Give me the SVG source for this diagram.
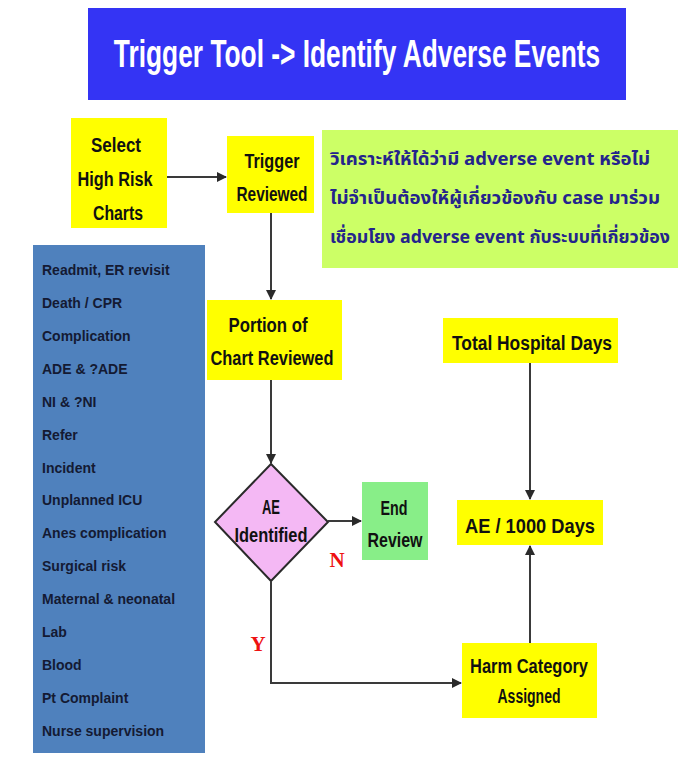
<svg xmlns="http://www.w3.org/2000/svg" width="680" height="764" viewBox="0 0 680 764">
<style>
.box{fill:#ffff00}
.lbl{font-family:"Liberation Sans",Arial,sans-serif;font-weight:bold;font-size:20px;fill:#111;text-anchor:middle}
.lst{font-family:"Liberation Sans",Arial,sans-serif;font-weight:bold;font-size:14px;fill:#141a33}
.th{font-family:"Noto Sans Thai","Noto Sans","DejaVu Sans","Liberation Sans",sans-serif;font-weight:bold;font-size:18px;fill:#24248c}
.yn{font-family:"Liberation Serif","Times New Roman",serif;font-weight:bold;font-size:21px;fill:#ee1111;text-anchor:middle}
.con{fill:none;stroke:#3a3a3a;stroke-width:2}
</style>
<defs>
<marker id="arr" viewBox="0 0 10 10" refX="9" refY="5" markerWidth="5" markerHeight="5" orient="auto" markerUnits="strokeWidth">
<path d="M0,0 L10,5 L0,10 z" fill="#2a2a2a"/>
</marker>
</defs>
<rect width="680" height="764" fill="#ffffff"/>
<g id="title">
<rect x="88" y="8" width="538" height="92" fill="#3434f4"/>
<text transform="translate(357,67) scale(0.675,1)" x="0" y="0" font-family="'Liberation Sans',Arial,sans-serif" font-weight="bold" font-size="39" fill="#ffffff" text-anchor="middle">Trigger Tool -&gt; Identify Adverse Events</text>
</g>
<g id="select">
<rect class="box" x="71" y="118" width="96" height="110"/>
<text class="lbl" x="116" y="152" textLength="50" lengthAdjust="spacingAndGlyphs">Select</text>
<text class="lbl" x="115" y="186" textLength="75" lengthAdjust="spacingAndGlyphs">High Risk</text>
<text class="lbl" x="118" y="220" textLength="50" lengthAdjust="spacingAndGlyphs">Charts</text>
</g>
<g id="trigger">
<rect class="box" x="227" y="136" width="87" height="77"/>
<text class="lbl" x="272" y="168" textLength="55" lengthAdjust="spacingAndGlyphs">Trigger</text>
<text class="lbl" x="272" y="201" textLength="71" lengthAdjust="spacingAndGlyphs">Reviewed</text>
</g>
<g id="note">
<rect x="322" y="130" width="356" height="138" fill="#ccff66"/>
<text class="th" x="330" y="165" textLength="320" lengthAdjust="spacingAndGlyphs">วิเคราะห์ให้ได้ว่ามี adverse event หรือไม่</text>
<text class="th" x="330" y="204" textLength="330" lengthAdjust="spacingAndGlyphs">ไม่จำเป็นต้องให้ผู้เกี่ยวข้องกับ case มาร่วม</text>
<text class="th" x="330" y="243" textLength="340" lengthAdjust="spacingAndGlyphs">เชื่อมโยง adverse event กับระบบที่เกี่ยวข้อง</text>
</g>
<g id="triggers-list">
<rect x="33" y="245" width="172" height="508" fill="#4f81bd"/>
<text class="lst" x="42" y="275">Readmit, ER revisit</text>
<text class="lst" x="42" y="308">Death / CPR</text>
<text class="lst" x="42" y="341">Complication</text>
<text class="lst" x="42" y="374">ADE &amp; ?ADE</text>
<text class="lst" x="42" y="407">NI &amp; ?NI</text>
<text class="lst" x="42" y="440">Refer</text>
<text class="lst" x="42" y="473">Incident</text>
<text class="lst" x="42" y="505">Unplanned ICU</text>
<text class="lst" x="42" y="538">Anes complication</text>
<text class="lst" x="42" y="571">Surgical risk</text>
<text class="lst" x="42" y="604">Maternal &amp; neonatal</text>
<text class="lst" x="42" y="637">Lab</text>
<text class="lst" x="42" y="670">Blood</text>
<text class="lst" x="42" y="703">Pt Complaint</text>
<text class="lst" x="42" y="736">Nurse supervision</text>
</g>
<g id="portion">
<rect class="box" x="207" y="300" width="135" height="80"/>
<text class="lbl" x="268" y="332" textLength="79" lengthAdjust="spacingAndGlyphs">Portion of</text>
<text class="lbl" x="272" y="365" textLength="123" lengthAdjust="spacingAndGlyphs">Chart Reviewed</text>
</g>
<g id="ae-identified">
<polygon points="271,464 328,522 271,581 215,522" fill="#f4b8f4" stroke="#2a2a2a" stroke-width="2"/>
<text class="lbl" x="271" y="514" font-size="16" textLength="18" lengthAdjust="spacingAndGlyphs">AE</text>
<text class="lbl" x="271" y="542" font-size="17" textLength="73" lengthAdjust="spacingAndGlyphs">Identified</text>
</g>
<g id="end-review">
<rect x="362" y="482" width="66" height="78" fill="#88ee88"/>
<text class="lbl" x="394" y="515" textLength="27" lengthAdjust="spacingAndGlyphs">End</text>
<text class="lbl" x="395" y="547" textLength="55" lengthAdjust="spacingAndGlyphs">Review</text>
</g>
<g id="total-days">
<rect class="box" x="443" y="318" width="175" height="45"/>
<text class="lbl" x="532" y="350" textLength="160" lengthAdjust="spacingAndGlyphs">Total Hospital Days</text>
</g>
<g id="ae-per-1000">
<rect class="box" x="457" y="500" width="146" height="45"/>
<text class="lbl" x="530" y="533" textLength="130" lengthAdjust="spacingAndGlyphs">AE / 1000 Days</text>
</g>
<g id="harm">
<rect class="box" x="462" y="643" width="135" height="75"/>
<text class="lbl" x="529" y="673" textLength="118" lengthAdjust="spacingAndGlyphs">Harm Category</text>
<text class="lbl" x="529" y="703" font-size="19" textLength="63" lengthAdjust="spacingAndGlyphs">Assigned</text>
</g>
<g id="connectors">
<line class="con" x1="167" y1="177" x2="226" y2="177" marker-end="url(#arr)"/>
<line class="con" x1="271" y1="213" x2="271" y2="299" marker-end="url(#arr)"/>
<line class="con" x1="271" y1="380" x2="271" y2="463" marker-end="url(#arr)"/>
<line class="con" x1="328" y1="521" x2="361" y2="521" marker-end="url(#arr)"/>
<polyline class="con" points="271,581 271,683 461,683" marker-end="url(#arr)"/>
<line class="con" x1="530" y1="363" x2="530" y2="499" marker-end="url(#arr)"/>
<line class="con" x1="530" y1="643" x2="530" y2="546" marker-end="url(#arr)"/>
<text class="yn" x="337" y="567">N</text>
<text class="yn" x="258" y="651">Y</text>
</g>
</svg>
